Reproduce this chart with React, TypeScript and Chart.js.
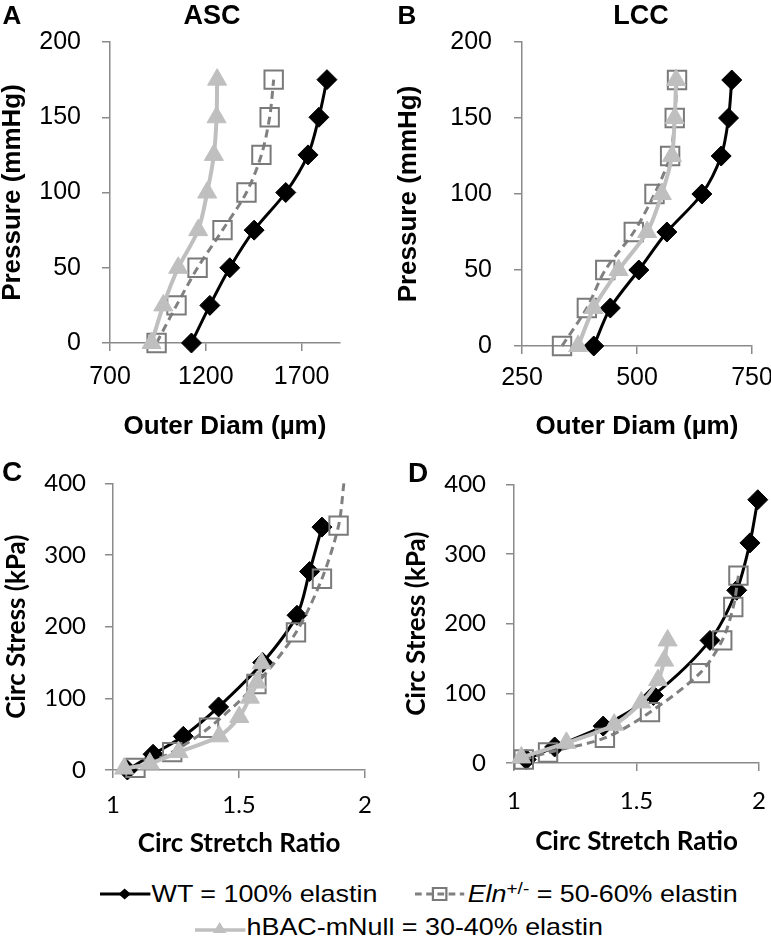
import React, { useEffect, useRef } from "react";
import { Chart, registerables } from "chart.js";

Chart.register(...registerables);

// ---------- DATA ----------
const PRESSURE = [0, 25, 50, 75, 100, 125, 150, 175];

// Panel A (ASC): outer diameter (µm)
const ASC_WT = [1125, 1221, 1325, 1452, 1617, 1733, 1790, 1832];
const ASC_ELN = [943, 1047, 1157, 1287, 1412, 1490, 1533, 1554];
const ASC_HBAC = [917, 978, 1056, 1160, 1207, 1242, 1256, 1259];

// Panel B (LCC): outer diameter (µm)
const LCC_WT = [406, 442, 504, 565, 641, 683, 699, 706];
const LCC_ELN = [337, 391, 431, 493, 538, 572, 582, 587];
const LCC_HBAC = [372, 406, 460, 522, 554, 576, 582, 585];

// Panel C (ASC stress-stretch)
const C_WT_STRETCH = [1.057, 1.159, 1.279, 1.419, 1.594, 1.73, 1.78, 1.829];
const C_WT_STRESS = [0, 22, 47, 88, 150, 216, 277, 339];
const C_ELN_STRETCH = [1.089, 1.235, 1.381, 1.569, 1.726, 1.829, 1.895, 1.916];
const C_ELN_STRESS = [3, 25, 59, 120, 192, 267, 341, 400];
const C_ELN_MARKER = [true, true, true, true, true, true, true, false];
const C_HBAC_STRETCH = [1.044, 1.146, 1.26, 1.421, 1.501, 1.543, 1.571, 1.59];
const C_HBAC_STRESS = [2, 9, 25, 47, 74, 101, 122, 149];

// Panel D (LCC stress-stretch)
const D_WT_STRETCH = [1.05, 1.166, 1.364, 1.569, 1.8, 1.909, 1.963, 1.995];
const D_WT_STRESS = [5, 23, 53, 97, 176, 248, 316, 378];
const D_ELN_STRETCH = [1.04, 1.139, 1.371, 1.555, 1.759, 1.85, 1.895, 1.916];
const D_ELN_STRESS = [5, 15, 36, 73, 129, 176, 224, 269];
const D_HBAC_STRETCH = [1.03, 1.214, 1.409, 1.52, 1.588, 1.613, 1.627];
const D_HBAC_STRESS = [8, 29, 55, 87, 119, 147, 176];

// Axis ticks
const PRESSURE_TICKS = [0, 50, 100, 150, 200];
const ASC_DIAM_TICKS = [700, 1200, 1700];
const LCC_DIAM_TICKS = [250, 500, 750];
const STRESS_TICKS = [0, 100, 200, 300, 400];
const STRETCH_TICKS = [1, 1.5, 2];

// ---------- STYLE ----------
const FONT_AB = "'Liberation Sans', Arial, sans-serif";
const FONT_CD = "Lato, 'Open Sans', sans-serif";
const AXIS_COLOR = "#8a8a8a";
const WT_COLOR = "#000000";
const ELN_COLOR = "#808080";
const HBAC_COLOR = "#bfbfbf";

const pts = (xs: number[], ys: number[]) => xs.map((x, i) => ({ x, y: ys[i] }));

function wtDs(data: any[]) {
  return {
    label: "WT",
    data,
    showLine: true,
    tension: 0.3,
    borderColor: WT_COLOR,
    borderWidth: 3,
    pointStyle: "rectRot",
    pointRadius: 10,
    pointBackgroundColor: WT_COLOR,
    pointBorderColor: WT_COLOR,
    pointBorderWidth: 1,
    clip: false,
    order: 3,
  };
}
function elnDs(data: any[], markers?: boolean[]) {
  return {
    label: "Eln",
    data,
    showLine: true,
    tension: 0.3,
    borderColor: ELN_COLOR,
    borderWidth: 3,
    borderDash: [8, 5],
    pointStyle: "rect",
    pointRadius: markers ? markers.map((m) => (m ? 13 : 0)) : 13,
    pointBackgroundColor: "rgba(0,0,0,0)",
    pointBorderColor: "#7a7a7a",
    pointBorderWidth: 2,
    clip: false,
    order: 2,
  };
}
function hbacDs(data: any[]) {
  return {
    label: "hBAC",
    data,
    showLine: true,
    tension: 0.3,
    borderColor: HBAC_COLOR,
    borderWidth: 4,
    pointStyle: "triangle",
    pointRadius: 11,
    pointBackgroundColor: HBAC_COLOR,
    pointBorderColor: HBAC_COLOR,
    pointBorderWidth: 1,
    clip: false,
    order: 1,
  };
}

type AxisSpec = {
  min: number;
  max: number;
  ticks: number[];
  size: number;
  family: string;
  tickSize: number;
  tickPad: number;
  title: string;
  titleSize: number;
  titlePadTop: number;
  titlePadBottom: number;
};

function axis(a: AxisSpec, horizontal: boolean) {
  return {
    type: "linear",
    min: a.min,
    max: a.max,
    afterBuildTicks: (s: any) => {
      s.ticks = a.ticks.map((v) => ({ value: v }));
    },
    afterFit: (s: any) => {
      if (horizontal) s.height = a.size;
      else s.width = a.size;
    },
    grid: {
      display: true,
      drawOnChartArea: false,
      drawTicks: true,
      tickLength: 8,
      color: AXIS_COLOR,
      lineWidth: 1.5,
    },
    border: { display: true, color: AXIS_COLOR, width: 1.5 },
    ticks: {
      color: "#000",
      padding: a.tickPad,
      font: { family: a.family, size: a.tickSize },
      callback: (v: any) => String(v),
      maxRotation: 0,
      autoSkip: false,
    },
    title: {
      display: true,
      text: a.title,
      color: "#000",
      font: { family: a.family, size: a.titleSize, weight: "bold", lineHeight: 1 },
      padding: { top: a.titlePadTop, bottom: a.titlePadBottom },
    },
  };
}

type Panel = {
  left: number;
  top: number;
  w: number;
  h: number;
  area: { l: number; r: number; t: number; b: number };
  datasets: any[];
  x: Omit<AxisSpec, "size">;
  y: Omit<AxisSpec, "size">;
};

function PanelChart({ p }: { p: Panel }) {
  const ref = useRef<HTMLCanvasElement>(null);
  useEffect(() => {
    const cfg: any = {
      type: "scatter",
      data: { datasets: p.datasets },
      options: {
        animation: false,
        responsive: false,
        maintainAspectRatio: false,
        layout: {
          padding: { left: 0, top: p.area.t, right: p.w - p.area.r, bottom: 0 },
        },
        plugins: { legend: { display: false }, tooltip: { enabled: false }, title: { display: false } },
        scales: {
          x: axis({ ...p.x, size: p.h - p.area.b }, true),
          y: axis({ ...p.y, size: p.area.l }, false),
        },
      },
    };
    const chart = new Chart(ref.current as HTMLCanvasElement, cfg);
    return () => chart.destroy();
  }, []);
  return (
    <canvas
      ref={ref}
      width={p.w}
      height={p.h}
      style={{ position: "absolute", left: p.left, top: p.top, width: p.w, height: p.h }}
    />
  );
}

const panels: Panel[] = [
  {
    left: 0,
    top: 0,
    w: 385,
    h: 450,
    area: { l: 110, r: 340, t: 42, b: 343 },
    datasets: [
      wtDs(pts(ASC_WT, PRESSURE)),
      elnDs(pts(ASC_ELN, PRESSURE)),
      hbacDs(pts(ASC_HBAC, PRESSURE)),
    ],
    x: { min: 700, max: 1900, ticks: ASC_DIAM_TICKS, family: FONT_AB, tickSize: 25, tickPad: 11, title: "Outer Diam (µm)", titleSize: 26, titlePadTop: 0, titlePadBottom: 10 },
    y: { min: 0, max: 200, ticks: PRESSURE_TICKS, family: FONT_AB, tickSize: 25, tickPad: 21, title: "Pressure (mmHg)", titleSize: 26, titlePadTop: 0, titlePadBottom: 0 },
  },
  {
    left: 385,
    top: 0,
    w: 400,
    h: 450,
    area: { l: 137, r: 367, t: 42, b: 346 },
    datasets: [
      wtDs(pts(LCC_WT, PRESSURE)),
      elnDs(pts(LCC_ELN, PRESSURE)),
      hbacDs(pts(LCC_HBAC, PRESSURE)),
    ],
    x: { min: 250, max: 750, ticks: LCC_DIAM_TICKS, family: FONT_AB, tickSize: 25, tickPad: 9, title: "Outer Diam (µm)", titleSize: 26, titlePadTop: 0, titlePadBottom: 10 },
    y: { min: 0, max: 200, ticks: PRESSURE_TICKS, family: FONT_AB, tickSize: 25, tickPad: 22, title: "Pressure (mmHg)", titleSize: 26, titlePadTop: 11, titlePadBottom: 0 },
  },
  {
    left: 0,
    top: 450,
    w: 385,
    h: 420,
    area: { l: 113, r: 376, t: 24, b: 320 },
    datasets: [
      wtDs(pts(C_WT_STRETCH, C_WT_STRESS)),
      elnDs(pts(C_ELN_STRETCH, C_ELN_STRESS), C_ELN_MARKER),
      hbacDs(pts(C_HBAC_STRETCH, C_HBAC_STRESS)),
    ],
    x: { min: 1, max: 2, ticks: STRETCH_TICKS, family: FONT_CD, tickSize: 24, tickPad: 13, title: "Circ Stretch Ratio", titleSize: 26, titlePadTop: 0, titlePadBottom: 13 },
    y: { min: 0, max: 400, ticks: STRESS_TICKS, family: FONT_CD, tickSize: 24, tickPad: 19, title: "Circ Stress (kPa)", titleSize: 26, titlePadTop: 4, titlePadBottom: 0 },
  },
  {
    left: 385,
    top: 450,
    w: 400,
    h: 420,
    area: { l: 129, r: 374, t: 23, b: 313 },
    datasets: [
      wtDs(pts(D_WT_STRETCH, D_WT_STRESS)),
      elnDs(pts(D_ELN_STRETCH, D_ELN_STRESS)),
      hbacDs(pts(D_HBAC_STRETCH, D_HBAC_STRESS)),
    ],
    x: { min: 1, max: 2, ticks: STRETCH_TICKS, family: FONT_CD, tickSize: 24, tickPad: 16, title: "Circ Stretch Ratio", titleSize: 26, titlePadTop: 0, titlePadBottom: 15 },
    y: { min: 0, max: 400, ticks: STRESS_TICKS, family: FONT_CD, tickSize: 24, tickPad: 20, title: "Circ Stress (kPa)", titleSize: 26, titlePadTop: 19, titlePadBottom: 0 },
  },
];

const label = (x: number, y: number, size: number): React.CSSProperties => ({
  position: "absolute",
  left: x,
  top: y,
  transform: "translate(-50%, -50%)",
  fontFamily: FONT_AB,
  fontWeight: "bold",
  fontSize: size,
  lineHeight: 1,
  whiteSpace: "nowrap",
});

const LEGEND_FONT = "'Liberation Sans', Arial, sans-serif";

function Marker({ kind }: { kind: "wt" | "eln" | "hbac" }) {
  if (kind === "wt")
    return (
      <svg width="46" height="20" style={{ display: "block" }}>
        <line x1="0" y1="10" x2="45" y2="10" stroke={WT_COLOR} strokeWidth="3" />
        <polygon points="22,4.5 27.5,10 22,15.5 16.5,10" fill={WT_COLOR} />
      </svg>
    );
  if (kind === "eln")
    return (
      <svg width="47" height="20" style={{ display: "block" }}>
        <line x1="0" y1="10" x2="44" y2="10" stroke={ELN_COLOR} strokeWidth="3" strokeDasharray="6,4" />
        <rect x="16" y="4" width="12" height="12" fill="none" stroke="#7a7a7a" strokeWidth="2" />
      </svg>
    );
  return (
    <svg width="46" height="20" style={{ display: "block" }}>
      <line x1="0" y1="13" x2="45" y2="13" stroke={HBAC_COLOR} strokeWidth="3.5" />
      <polygon points="22,5 28,16 16,16" fill={HBAC_COLOR} />
    </svg>
  );
}

const legendRow = (x: number, y: number): React.CSSProperties => ({
  position: "absolute",
  left: x,
  top: y,
  transform: "translateY(-50%) scaleX(1.12)",
  transformOrigin: "left center",
  display: "flex",
  alignItems: "center",
  fontFamily: LEGEND_FONT,
  fontSize: 24,
  lineHeight: 1,
  whiteSpace: "nowrap",
  color: "#000",
});

export default function App() {
  return (
    <div style={{ position: "absolute", left: 0, top: 0, width: 771, height: 942, overflow: "hidden", background: "#fff" }}>
      {panels.map((p, i) => (
        <PanelChart key={i} p={p} />
      ))}
      <div style={label(12, 15, 26)}>A</div>
      <div style={label(212, 15, 27)}>ASC</div>
      <div style={label(407, 15, 26)}>B</div>
      <div style={label(641, 15, 27)}>LCC</div>
      <div style={label(12, 472, 28)}>C</div>
      <div style={label(418, 473, 28)}>D</div>

      <div style={legendRow(100, 894)}>
        <Marker kind="wt" />
        <span>WT = 100% elastin</span>
      </div>
      <div style={legendRow(415, 894)}>
        <Marker kind="eln" />
        <span>
          <i>Eln</i>
          <sup style={{ fontSize: 17, verticalAlign: "8px", lineHeight: 0 }}>+/-</sup> = 50-60% elastin
        </span>
      </div>
      <div style={legendRow(195, 927)}>
        <Marker kind="hbac" />
        <span>hBAC-mNull = 30-40% elastin</span>
      </div>
    </div>
  );
}
